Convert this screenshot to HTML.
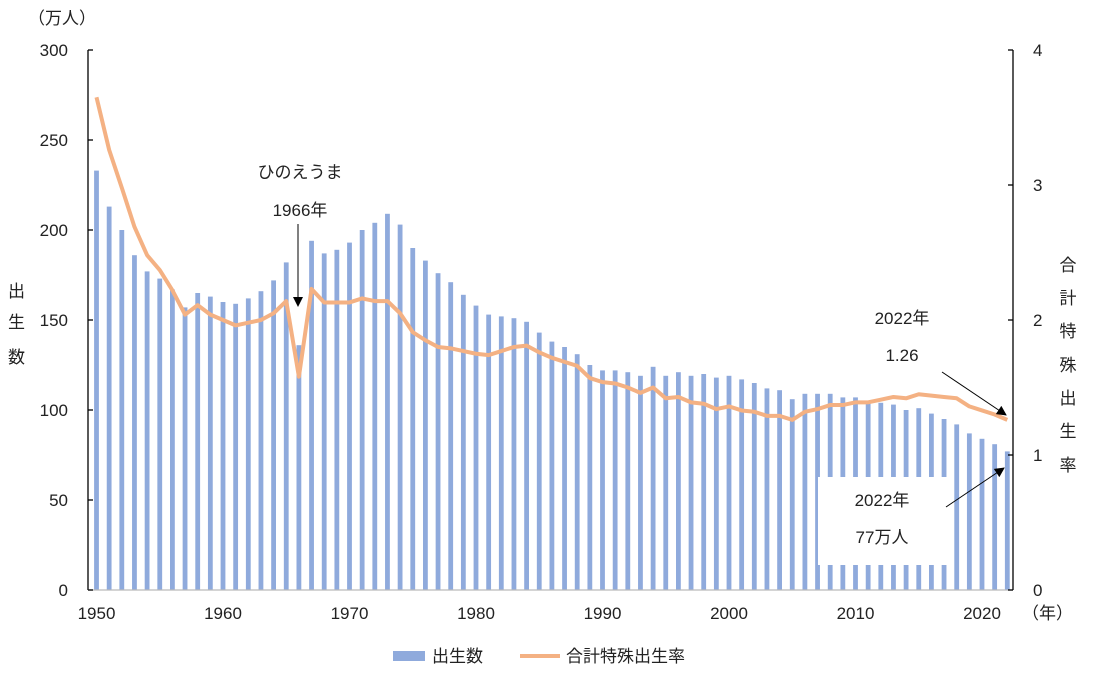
<!DOCTYPE html><html><head><meta charset="utf-8"><style>body{margin:0;background:#fff}svg text{font-family:"Liberation Sans","Noto Sans CJK JP",sans-serif;font-size:17px;fill:#222}</style></head><body>
<svg id="s" width="1100" height="690" xmlns="http://www.w3.org/2000/svg">
<defs><marker id="ar" markerWidth="10" markerHeight="10" refX="9" refY="5" orient="auto" markerUnits="userSpaceOnUse"><path d="M0,0 L10,5 L0,10 z" fill="#000"/></marker></defs>
<g id="bars"></g>
<rect x="818" y="477" width="129" height="88" fill="#fff"/>
<polyline id="ln" fill="none" stroke="#f4b183" stroke-width="4" stroke-linejoin="round"/>
<line x1="88" y1="50" x2="88" y2="590" stroke="#000" stroke-width="1.3"/>
<line x1="88" y1="590" x2="1013" y2="590" stroke="#bbb" stroke-width="1.3"/>
<line x1="1013" y1="50" x2="1013" y2="590" stroke="#000" stroke-width="1.3"/>
<g id="tk" stroke="#000" stroke-width="1.3"></g>
<g id="lb"></g>
<text x="28" y="24">（万人）</text>
<text x="8" y="297">出</text><text x="8" y="328">生</text><text x="8" y="363">数</text>
<g text-anchor="middle"><text x="1068" y="271">合</text><text x="1068" y="304">計</text><text x="1068" y="337">特</text><text x="1068" y="371">殊</text><text x="1068" y="404">出</text><text x="1068" y="437">生</text><text x="1068" y="471">率</text>
<text x="300" y="178">ひのえうま</text><text x="300" y="216">1966年</text>
<text x="902" y="324">2022年</text><text x="902" y="361">1.26</text>
<text x="882" y="506">2022年</text><text x="882" y="543">77万人</text></g>
<text x="1022" y="619">（年）</text>
<line x1="298" y1="224" x2="298" y2="306" stroke="#000" marker-end="url(#ar)"/>
<line x1="942" y1="372" x2="1006" y2="415" stroke="#000" marker-end="url(#ar)"/>
<line x1="946" y1="507" x2="1004" y2="468" stroke="#000" marker-end="url(#ar)"/>
<rect x="393" y="651" width="32" height="10" fill="#8faadc"/><text x="432" y="662">出生数</text>
<line x1="520" y1="656" x2="560" y2="656" stroke="#f4b183" stroke-width="4"/><text x="566" y="662">合計特殊出生率</text>
</svg>
<script>
var B=[233,213,200,186,177,173,167,157,165,163,160,159,162,166,172,182,136,194,187,189,193,200,204,209,203,190,183,176,171,164,158,153,152,151,149,143,138,135,131,125,122,122,121,119,124,119,121,119,120,118,119,117,115,112,111,106,109,109,109,107,107,105,104,103,100,101,98,95,92,87,84,81,77];
var T=[3.65,3.26,2.98,2.69,2.48,2.37,2.22,2.04,2.11,2.04,2.00,1.96,1.98,2.00,2.05,2.14,1.58,2.23,2.13,2.13,2.13,2.16,2.14,2.14,2.05,1.91,1.85,1.80,1.79,1.77,1.75,1.74,1.77,1.80,1.81,1.76,1.72,1.69,1.66,1.57,1.54,1.53,1.50,1.46,1.50,1.42,1.43,1.39,1.38,1.34,1.36,1.33,1.32,1.29,1.29,1.26,1.32,1.34,1.37,1.37,1.39,1.39,1.41,1.43,1.42,1.45,1.44,1.43,1.42,1.36,1.33,1.30,1.26];
function X(i){return 96.5+i*12.65}
var g=document.getElementById('bars'),h='',p=[];
for(var i=0;i<B.length;i++){var y=590-B[i]*1.8;h+='<rect x="'+(X(i)-2.4)+'" y="'+y+'" width="4.8" height="'+(590-y)+'" fill="#8faadc"/>';p.push(X(i)+','+(590-T[i]*135))}
g.innerHTML=h;document.getElementById('ln').setAttribute('points',p.join(' '));
var t='',l='';
for(var k=0;k<=6;k++){var y=590-k*90;t+='<line x1="88" y1="'+y+'" x2="93" y2="'+y+'"/>';l+='<text x="68" y="'+(y+6)+'" text-anchor="end">'+(k*50)+'</text>'}
for(var k=0;k<=4;k++){var y=590-k*135;t+='<line x1="1008" y1="'+y+'" x2="1013" y2="'+y+'"/>';l+='<text x="1033" y="'+(y+6)+'">'+k+'</text>'}
for(var k=0;k<8;k++){l+='<text x="'+X(k*10)+'" y="619" text-anchor="middle">'+(1950+k*10)+'</text>'}
document.getElementById('tk').innerHTML=t;document.getElementById('lb').innerHTML=l;
</script></body></html>
